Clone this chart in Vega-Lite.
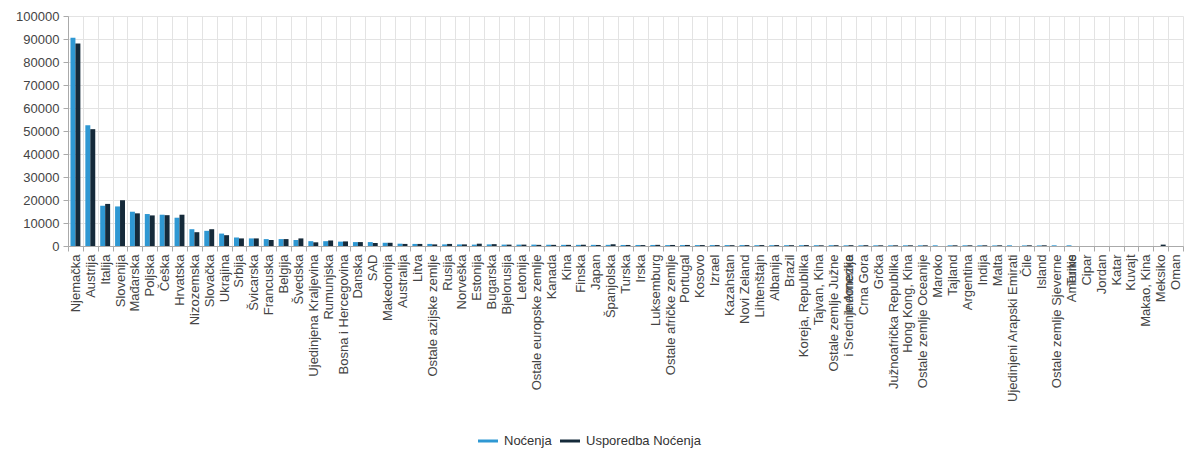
{
  "$schema": "https://vega.github.io/schema/vega-lite/v6.json",
  "width": 1115,
  "height": 230,
  "autosize": {"type": "none"},
  "padding": {"left": 68, "top": 16, "right": 6, "bottom": 204},
  "background": "white",
  "config": {
    "font": "Liberation Sans",
    "view": {"stroke": null},
    "axis": {"labelFont": "Liberation Sans", "labelColor": "#444444", "gridColor": "#e3e3e3", "domainColor": "#aaaaaa", "tickColor": "#aaaaaa"}
  },
  "datasets": {
    "rows": [
      {"zemlja": "Njemačka", "serija": "Noćenja", "vrijednost": 90500},
      {"zemlja": "Njemačka", "serija": "Usporedba Noćenja", "vrijednost": 88000},
      {"zemlja": "Austrija", "serija": "Noćenja", "vrijednost": 52500},
      {"zemlja": "Austrija", "serija": "Usporedba Noćenja", "vrijednost": 50800},
      {"zemlja": "Italija", "serija": "Noćenja", "vrijednost": 17500},
      {"zemlja": "Italija", "serija": "Usporedba Noćenja", "vrijednost": 18300},
      {"zemlja": "Slovenija", "serija": "Noćenja", "vrijednost": 17200},
      {"zemlja": "Slovenija", "serija": "Usporedba Noćenja", "vrijednost": 19900},
      {"zemlja": "Mađarska", "serija": "Noćenja", "vrijednost": 14900},
      {"zemlja": "Mađarska", "serija": "Usporedba Noćenja", "vrijednost": 14200},
      {"zemlja": "Poljska", "serija": "Noćenja", "vrijednost": 13900},
      {"zemlja": "Poljska", "serija": "Usporedba Noćenja", "vrijednost": 13300},
      {"zemlja": "Češka", "serija": "Noćenja", "vrijednost": 13600},
      {"zemlja": "Češka", "serija": "Usporedba Noćenja", "vrijednost": 13400},
      {"zemlja": "Hrvatska", "serija": "Noćenja", "vrijednost": 12300},
      {"zemlja": "Hrvatska", "serija": "Usporedba Noćenja", "vrijednost": 13600},
      {"zemlja": "Nizozemska", "serija": "Noćenja", "vrijednost": 7300},
      {"zemlja": "Nizozemska", "serija": "Usporedba Noćenja", "vrijednost": 6000},
      {"zemlja": "Slovačka", "serija": "Noćenja", "vrijednost": 6600},
      {"zemlja": "Slovačka", "serija": "Usporedba Noćenja", "vrijednost": 7300},
      {"zemlja": "Ukrajina", "serija": "Noćenja", "vrijednost": 5400},
      {"zemlja": "Ukrajina", "serija": "Usporedba Noćenja", "vrijednost": 4700},
      {"zemlja": "Srbija", "serija": "Noćenja", "vrijednost": 3700},
      {"zemlja": "Srbija", "serija": "Usporedba Noćenja", "vrijednost": 3300},
      {"zemlja": "Švicarska", "serija": "Noćenja", "vrijednost": 3300},
      {"zemlja": "Švicarska", "serija": "Usporedba Noćenja", "vrijednost": 3300},
      {"zemlja": "Francuska", "serija": "Noćenja", "vrijednost": 3000},
      {"zemlja": "Francuska", "serija": "Usporedba Noćenja", "vrijednost": 2600},
      {"zemlja": "Belgija", "serija": "Noćenja", "vrijednost": 3000},
      {"zemlja": "Belgija", "serija": "Usporedba Noćenja", "vrijednost": 3000},
      {"zemlja": "Švedska", "serija": "Noćenja", "vrijednost": 2600},
      {"zemlja": "Švedska", "serija": "Usporedba Noćenja", "vrijednost": 3300},
      {"zemlja": "Ujedinjena Kraljevina", "serija": "Noćenja", "vrijednost": 2100},
      {"zemlja": "Ujedinjena Kraljevina", "serija": "Usporedba Noćenja", "vrijednost": 1600},
      {"zemlja": "Rumunjska", "serija": "Noćenja", "vrijednost": 2100},
      {"zemlja": "Rumunjska", "serija": "Usporedba Noćenja", "vrijednost": 2400},
      {"zemlja": "Bosna i Hercegovina", "serija": "Noćenja", "vrijednost": 1900},
      {"zemlja": "Bosna i Hercegovina", "serija": "Usporedba Noćenja", "vrijednost": 2000},
      {"zemlja": "Danska", "serija": "Noćenja", "vrijednost": 1700},
      {"zemlja": "Danska", "serija": "Usporedba Noćenja", "vrijednost": 1700},
      {"zemlja": "SAD", "serija": "Noćenja", "vrijednost": 1700},
      {"zemlja": "SAD", "serija": "Usporedba Noćenja", "vrijednost": 1300},
      {"zemlja": "Makedonija", "serija": "Noćenja", "vrijednost": 1400},
      {"zemlja": "Makedonija", "serija": "Usporedba Noćenja", "vrijednost": 1400},
      {"zemlja": "Australija", "serija": "Noćenja", "vrijednost": 1000},
      {"zemlja": "Australija", "serija": "Usporedba Noćenja", "vrijednost": 900},
      {"zemlja": "Litva", "serija": "Noćenja", "vrijednost": 900},
      {"zemlja": "Litva", "serija": "Usporedba Noćenja", "vrijednost": 900},
      {"zemlja": "Ostale azijske zemlje", "serija": "Noćenja", "vrijednost": 900},
      {"zemlja": "Ostale azijske zemlje", "serija": "Usporedba Noćenja", "vrijednost": 700},
      {"zemlja": "Rusija", "serija": "Noćenja", "vrijednost": 700},
      {"zemlja": "Rusija", "serija": "Usporedba Noćenja", "vrijednost": 900},
      {"zemlja": "Norveška", "serija": "Noćenja", "vrijednost": 700},
      {"zemlja": "Norveška", "serija": "Usporedba Noćenja", "vrijednost": 700},
      {"zemlja": "Estonija", "serija": "Noćenja", "vrijednost": 600},
      {"zemlja": "Estonija", "serija": "Usporedba Noćenja", "vrijednost": 1000},
      {"zemlja": "Bugarska", "serija": "Noćenja", "vrijednost": 700},
      {"zemlja": "Bugarska", "serija": "Usporedba Noćenja", "vrijednost": 800},
      {"zemlja": "Bjelorusija", "serija": "Noćenja", "vrijednost": 600},
      {"zemlja": "Bjelorusija", "serija": "Usporedba Noćenja", "vrijednost": 600},
      {"zemlja": "Letonija", "serija": "Noćenja", "vrijednost": 600},
      {"zemlja": "Letonija", "serija": "Usporedba Noćenja", "vrijednost": 600},
      {"zemlja": "Ostale europske zemlje", "serija": "Noćenja", "vrijednost": 600},
      {"zemlja": "Ostale europske zemlje", "serija": "Usporedba Noćenja", "vrijednost": 500},
      {"zemlja": "Kanada", "serija": "Noćenja", "vrijednost": 550},
      {"zemlja": "Kanada", "serija": "Usporedba Noćenja", "vrijednost": 500},
      {"zemlja": "Kina", "serija": "Noćenja", "vrijednost": 500},
      {"zemlja": "Kina", "serija": "Usporedba Noćenja", "vrijednost": 500},
      {"zemlja": "Finska", "serija": "Noćenja", "vrijednost": 500},
      {"zemlja": "Finska", "serija": "Usporedba Noćenja", "vrijednost": 550},
      {"zemlja": "Japan", "serija": "Noćenja", "vrijednost": 500},
      {"zemlja": "Japan", "serija": "Usporedba Noćenja", "vrijednost": 450},
      {"zemlja": "Španjolska", "serija": "Noćenja", "vrijednost": 500},
      {"zemlja": "Španjolska", "serija": "Usporedba Noćenja", "vrijednost": 750},
      {"zemlja": "Turska", "serija": "Noćenja", "vrijednost": 450},
      {"zemlja": "Turska", "serija": "Usporedba Noćenja", "vrijednost": 450},
      {"zemlja": "Irska", "serija": "Noćenja", "vrijednost": 450},
      {"zemlja": "Irska", "serija": "Usporedba Noćenja", "vrijednost": 400},
      {"zemlja": "Luksemburg", "serija": "Noćenja", "vrijednost": 450},
      {"zemlja": "Luksemburg", "serija": "Usporedba Noćenja", "vrijednost": 500},
      {"zemlja": "Ostale afričke zemlje", "serija": "Noćenja", "vrijednost": 400},
      {"zemlja": "Ostale afričke zemlje", "serija": "Usporedba Noćenja", "vrijednost": 450},
      {"zemlja": "Portugal", "serija": "Noćenja", "vrijednost": 400},
      {"zemlja": "Portugal", "serija": "Usporedba Noćenja", "vrijednost": 450},
      {"zemlja": "Kosovo", "serija": "Noćenja", "vrijednost": 400},
      {"zemlja": "Kosovo", "serija": "Usporedba Noćenja", "vrijednost": 400},
      {"zemlja": "Izrael", "serija": "Noćenja", "vrijednost": 400},
      {"zemlja": "Izrael", "serija": "Usporedba Noćenja", "vrijednost": 400},
      {"zemlja": "Kazahstan", "serija": "Noćenja", "vrijednost": 400},
      {"zemlja": "Kazahstan", "serija": "Usporedba Noćenja", "vrijednost": 350},
      {"zemlja": "Novi Zeland", "serija": "Noćenja", "vrijednost": 400},
      {"zemlja": "Novi Zeland", "serija": "Usporedba Noćenja", "vrijednost": 400},
      {"zemlja": "Lihtenštajn", "serija": "Noćenja", "vrijednost": 350},
      {"zemlja": "Lihtenštajn", "serija": "Usporedba Noćenja", "vrijednost": 400},
      {"zemlja": "Albanija", "serija": "Noćenja", "vrijednost": 350},
      {"zemlja": "Albanija", "serija": "Usporedba Noćenja", "vrijednost": 400},
      {"zemlja": "Brazil", "serija": "Noćenja", "vrijednost": 350},
      {"zemlja": "Brazil", "serija": "Usporedba Noćenja", "vrijednost": 350},
      {"zemlja": "Koreja, Republika", "serija": "Noćenja", "vrijednost": 350},
      {"zemlja": "Koreja, Republika", "serija": "Usporedba Noćenja", "vrijednost": 400},
      {"zemlja": "Tajvan, Kina", "serija": "Noćenja", "vrijednost": 350},
      {"zemlja": "Tajvan, Kina", "serija": "Usporedba Noćenja", "vrijednost": 300},
      {"zemlja": "Ostale zemlje Južne i Srednje Amerike", "serija": "Noćenja", "vrijednost": 350},
      {"zemlja": "Ostale zemlje Južne i Srednje Amerike", "serija": "Usporedba Noćenja", "vrijednost": 350},
      {"zemlja": "Indonezija", "serija": "Noćenja", "vrijednost": 300},
      {"zemlja": "Indonezija", "serija": "Usporedba Noćenja", "vrijednost": 350},
      {"zemlja": "Crna Gora", "serija": "Noćenja", "vrijednost": 300},
      {"zemlja": "Crna Gora", "serija": "Usporedba Noćenja", "vrijednost": 350},
      {"zemlja": "Grčka", "serija": "Noćenja", "vrijednost": 300},
      {"zemlja": "Grčka", "serija": "Usporedba Noćenja", "vrijednost": 300},
      {"zemlja": "Južnoafrička Republika", "serija": "Noćenja", "vrijednost": 300},
      {"zemlja": "Južnoafrička Republika", "serija": "Usporedba Noćenja", "vrijednost": 300},
      {"zemlja": "Hong Kong, Kina", "serija": "Noćenja", "vrijednost": 300},
      {"zemlja": "Hong Kong, Kina", "serija": "Usporedba Noćenja", "vrijednost": 300},
      {"zemlja": "Ostale zemlje Oceanije", "serija": "Noćenja", "vrijednost": 300},
      {"zemlja": "Ostale zemlje Oceanije", "serija": "Usporedba Noćenja", "vrijednost": 300},
      {"zemlja": "Maroko", "serija": "Noćenja", "vrijednost": 300},
      {"zemlja": "Maroko", "serija": "Usporedba Noćenja", "vrijednost": 0},
      {"zemlja": "Tajland", "serija": "Noćenja", "vrijednost": 300},
      {"zemlja": "Tajland", "serija": "Usporedba Noćenja", "vrijednost": 300},
      {"zemlja": "Argentina", "serija": "Noćenja", "vrijednost": 300},
      {"zemlja": "Argentina", "serija": "Usporedba Noćenja", "vrijednost": 300},
      {"zemlja": "Indija", "serija": "Noćenja", "vrijednost": 300},
      {"zemlja": "Indija", "serija": "Usporedba Noćenja", "vrijednost": 300},
      {"zemlja": "Malta", "serija": "Noćenja", "vrijednost": 250},
      {"zemlja": "Malta", "serija": "Usporedba Noćenja", "vrijednost": 300},
      {"zemlja": "Ujedinjeni Arapski Emirati", "serija": "Noćenja", "vrijednost": 300},
      {"zemlja": "Ujedinjeni Arapski Emirati", "serija": "Usporedba Noćenja", "vrijednost": 0},
      {"zemlja": "Čile", "serija": "Noćenja", "vrijednost": 250},
      {"zemlja": "Čile", "serija": "Usporedba Noćenja", "vrijednost": 300},
      {"zemlja": "Island", "serija": "Noćenja", "vrijednost": 250},
      {"zemlja": "Island", "serija": "Usporedba Noćenja", "vrijednost": 300},
      {"zemlja": "Ostale zemlje Sjeverne Amerike", "serija": "Noćenja", "vrijednost": 300},
      {"zemlja": "Ostale zemlje Sjeverne Amerike", "serija": "Usporedba Noćenja", "vrijednost": 0},
      {"zemlja": "Tunis", "serija": "Noćenja", "vrijednost": 300},
      {"zemlja": "Tunis", "serija": "Usporedba Noćenja", "vrijednost": 0},
      {"zemlja": "Cipar", "serija": "Noćenja", "vrijednost": 0},
      {"zemlja": "Cipar", "serija": "Usporedba Noćenja", "vrijednost": 0},
      {"zemlja": "Jordan", "serija": "Noćenja", "vrijednost": 0},
      {"zemlja": "Jordan", "serija": "Usporedba Noćenja", "vrijednost": 0},
      {"zemlja": "Katar", "serija": "Noćenja", "vrijednost": 0},
      {"zemlja": "Katar", "serija": "Usporedba Noćenja", "vrijednost": 0},
      {"zemlja": "Kuvajt", "serija": "Noćenja", "vrijednost": 0},
      {"zemlja": "Kuvajt", "serija": "Usporedba Noćenja", "vrijednost": 0},
      {"zemlja": "Makao, Kina", "serija": "Noćenja", "vrijednost": 0},
      {"zemlja": "Makao, Kina", "serija": "Usporedba Noćenja", "vrijednost": 0},
      {"zemlja": "Meksiko", "serija": "Noćenja", "vrijednost": 0},
      {"zemlja": "Meksiko", "serija": "Usporedba Noćenja", "vrijednost": 600},
      {"zemlja": "Oman", "serija": "Noćenja", "vrijednost": 0},
      {"zemlja": "Oman", "serija": "Usporedba Noćenja", "vrijednost": 0}
    ]
  },
  "data": {"name": "rows"},
  "mark": {"type": "bar"},
  "encoding": {
    "x": {
      "field": "zemlja",
      "type": "nominal",
      "sort": null,
      "title": null,
      "scale": {"paddingInner": 0, "paddingOuter": 0},
      "axis": {
        "labelAngle": -90,
        "labelAlign": "right",
        "labelBaseline": "middle",
        "labelFontSize": 13,
        "labelPadding": 3,
        "labelLimit": 400,
        "labelOverlap": false,
        "tickBand": "extent",
        "tickSize": 5,
        "grid": true,
        "labelExpr": "datum.label == 'Ostale zemlje Južne i Srednje Amerike' ? ['Ostale zemlje Južne', 'i Srednje Amerike'] : datum.label == 'Ostale zemlje Sjeverne Amerike' ? ['Ostale zemlje Sjeverne', 'Amerike'] : datum.label"
      }
    },
    "xOffset": {
      "field": "serija",
      "type": "nominal",
      "sort": ["Noćenja", "Usporedba Noćenja"],
      "scale": {"paddingInner": 0, "paddingOuter": 0.5}
    },
    "y": {
      "field": "vrijednost",
      "type": "quantitative",
      "title": null,
      "scale": {"domain": [0, 100000], "nice": false},
      "axis": {
        "values": [0, 10000, 20000, 30000, 40000, 50000, 60000, 70000, 80000, 90000, 100000],
        "format": "d",
        "labelFontSize": 13,
        "tickSize": 5,
        "labelPadding": 4,
        "domain": true
      }
    },
    "color": {
      "field": "serija",
      "type": "nominal",
      "title": null,
      "scale": {"domain": ["Noćenja", "Usporedba Noćenja"], "range": ["#2f98d3", "#152a3a"]},
      "legend": {
        "orient": "none",
        "direction": "horizontal",
        "legendX": 410,
        "legendY": 415,
        "symbolType": "M-1,-0.15H1V0.15H-1Z",
        "symbolSize": 400,
        "symbolStrokeWidth": 0,
        "labelFontSize": 13,
        "labelColor": "#333333",
        "labelOffset": 6,
        "columnPadding": 8
      }
    }
  }
}
